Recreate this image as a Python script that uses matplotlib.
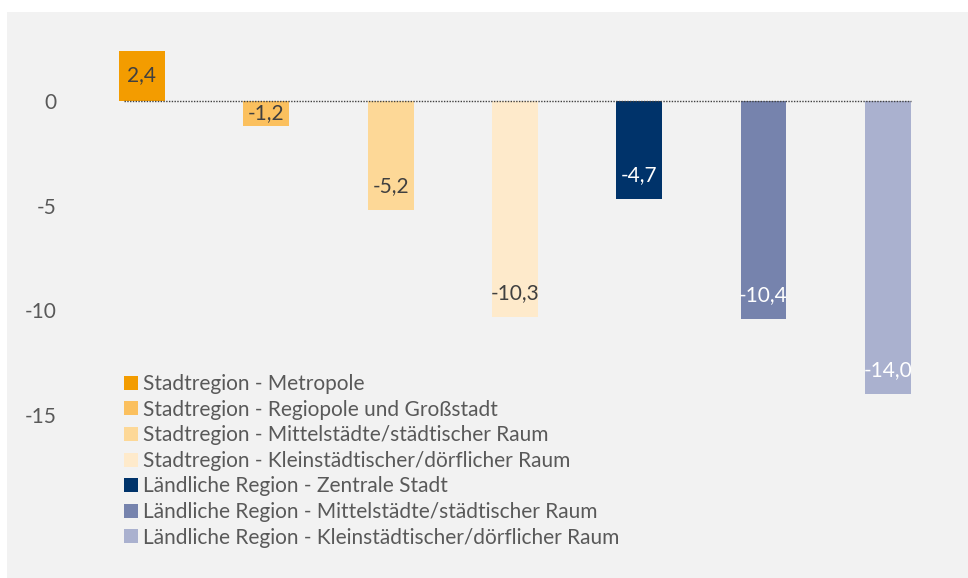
import matplotlib.pyplot as plt
from matplotlib.patches import Rectangle

categories = [
    "Stadtregion - Metropole",
    "Stadtregion - Regiopole und Großstadt",
    "Stadtregion - Mittelstädte/städtischer Raum",
    "Stadtregion - Kleinstädtischer/dörflicher Raum",
    "Ländliche Region - Zentrale Stadt",
    "Ländliche Region - Mittelstädte/städtischer Raum",
    "Ländliche Region - Kleinstädtischer/dörflicher Raum",
]
values = [2.4, -1.2, -5.2, -10.3, -4.7, -10.4, -14.0]
colors = ["#F39C00", "#FBC05E", "#FDD897", "#FEEACB", "#00336A", "#7683AD", "#AAB1CF"]
label_colors = ["#404040", "#404040", "#404040", "#404040", "white", "white", "white"]
yticks = [0, -5, -10, -15]

plt.rcParams['font.family'] = ['Lato', 'DejaVu Sans']

W, H = 968, 578
fig = plt.figure(figsize=(W / 100, H / 100), dpi=100)
fig.patch.set_facecolor("white")
fig.patches.append(Rectangle((7 / W, 0), 1 - 7 / W, 1 - 12 / H, transform=fig.transFigure,
                             facecolor="#F2F2F2", edgecolor="none", zorder=-10))

# axes placed in pixel terms: bar centres at 142 + 124.3*i, zero at y=101, 20.95 px per unit
x0, step = 142, 124.3
y0, ppu = 101, 20.95
left_px, right_px = x0 - 0.5 * step, x0 + 6.5 * step
top_px, bot_px = 20, 570
ax = fig.add_axes([left_px / W, 1 - bot_px / H, (right_px - left_px) / W, (bot_px - top_px) / H])
ax.set_xlim(-0.5, 6.5)
ax.set_ylim((y0 - bot_px) / ppu, (y0 - top_px) / ppu)
ax.patch.set_visible(False)

xs = list(range(len(values)))
width = 0.37
bars = ax.bar(xs, values, width=width, color=colors, label=categories, zorder=2)
ax.hlines(0, xs[0] - 0.145, xs[-1] + width / 2, colors="#404040", linestyles=(0, (1, 1)),
          linewidth=1, zorder=3)

for x, v, tc in zip(xs, values, label_colors):
    half_px = abs(v) * ppu / 2
    off_px = min(24, half_px)
    sign = 1 if v > 0 else -1
    ax.annotate(f"{v:.1f}".replace(".", ","), (x, v), xytext=(0, -sign * off_px * 0.72),
                textcoords="offset points", ha="center", va="center", color=tc, fontsize=15,
                zorder=4)

for s in ax.spines.values():
    s.set_visible(False)
ax.set_xticks([])
ax.set_yticks(yticks)
ax.set_yticklabels([str(t) for t in yticks])
ax.tick_params(axis="y", length=0, pad=16.5, labelsize=15, labelcolor="#595959")

fig.legend(handles=bars.patches, labels=categories, loc="upper left",
           bbox_to_anchor=(124 / W, 1 - 374 / H), frameon=False, fontsize=15,
           handlelength=0.65, handleheight=0.65, handletextpad=0.25, labelspacing=0.27,
           borderpad=0, borderaxespad=0, labelcolor="#595959")

plt.savefig("out.png", dpi=100)
